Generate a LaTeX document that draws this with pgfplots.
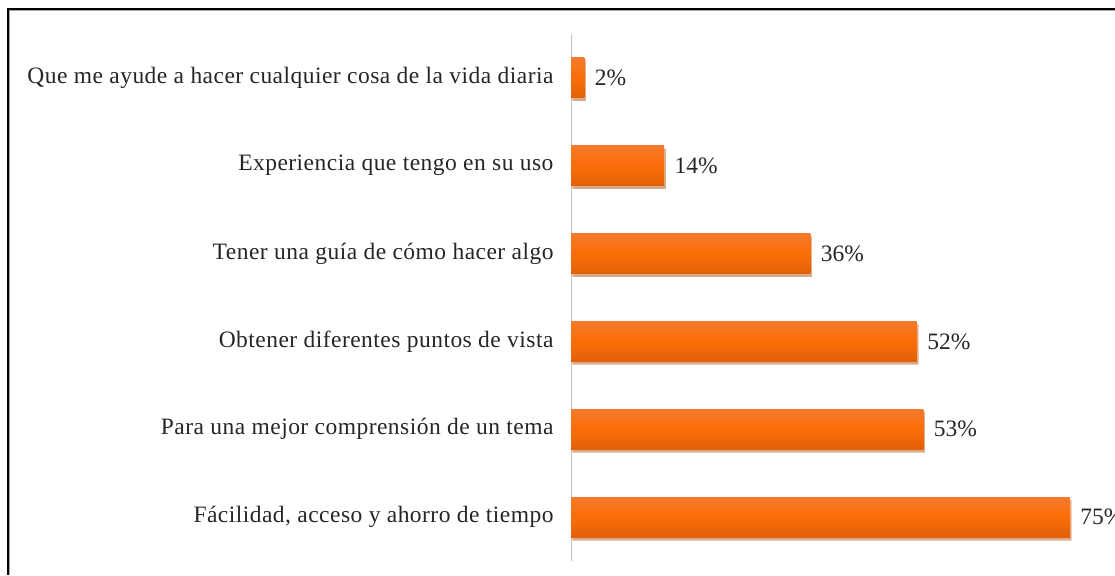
\documentclass[border=0pt]{standalone}
\usepackage{pgfplots}
\pgfplotsset{compat=1.18}
\usepackage{fontspec}
\setmainfont{Liberation Serif}
\newfontfamily\labfont[LetterSpace=2]{Liberation Serif}
\usetikzlibrary{shadows}
\definecolor{txt}{HTML}{262626}
\definecolor{bartop}{HTML}{F57A2C}
\definecolor{barmid}{HTML}{FB6E08}
\definecolor{barbot}{HTML}{E06008}
\pgfplotsset{barsty/.style={draw=none, top color=bartop, bottom color=barbot, middle color=barmid,
  drop shadow={shadow xshift=1.5pt, shadow yshift=-3pt, opacity=0.35}}}
\begin{document}
\begin{tikzpicture}[x=1pt,y=1pt]
\useasboundingbox (0,0) rectangle (1115,575);
\draw[line width=1.6pt, black] (8,0) -- (8,566) -- (1115,566);
\draw[line width=0.8pt, black!35] (9.5,0) -- (9.5,564.5) -- (1115,564.5);
\begin{axis}[
  at={(571pt,14pt)}, anchor=south west,
  scale only axis, width=532pt, height=527pt,
  xmin=0, xmax=80, ymin=-0.5, ymax=5.5,
  axis x line=none,
  axis y line*=left,
  y axis line style={draw=black!25, line width=1pt, -},
  ytick={0,1,2,3,4,5},
  yticklabels={{F\'acilidad, acceso y ahorro de tiempo},
    {Para una mejor comprensi\'on de un tema},
    {Obtener diferentes puntos de vista},
    {Tener una gu\'ia de c\'omo hacer algo},
    {Experiencia que tengo en su uso},
    {Que me ayude a hacer cualquier cosa de la vida diaria}},
  major tick length=0pt,
  yticklabel style={font=\labfont\fontsize{23.5}{28}\selectfont, text=txt, xshift=-14pt},
  clip=false,
  xbar, bar width=40pt, bar shift=0pt,
  nodes near coords={\pgfmathprintnumber[assume math mode=true]{\pgfplotspointmeta}\%},
  every node near coord/.append style={font=\fontsize{23.5}{28}\selectfont, text=txt, anchor=west, xshift=7pt},
]
\addplot[barsty] coordinates {(75,0)};
\addplot[barsty] coordinates {(53,1)};
\addplot[barsty] coordinates {(52,2)};
\addplot[barsty] coordinates {(36,3)};
\addplot[barsty] coordinates {(14,4)};
\addplot[barsty] coordinates {(2,5)};
\end{axis}
\end{tikzpicture}
\end{document}
